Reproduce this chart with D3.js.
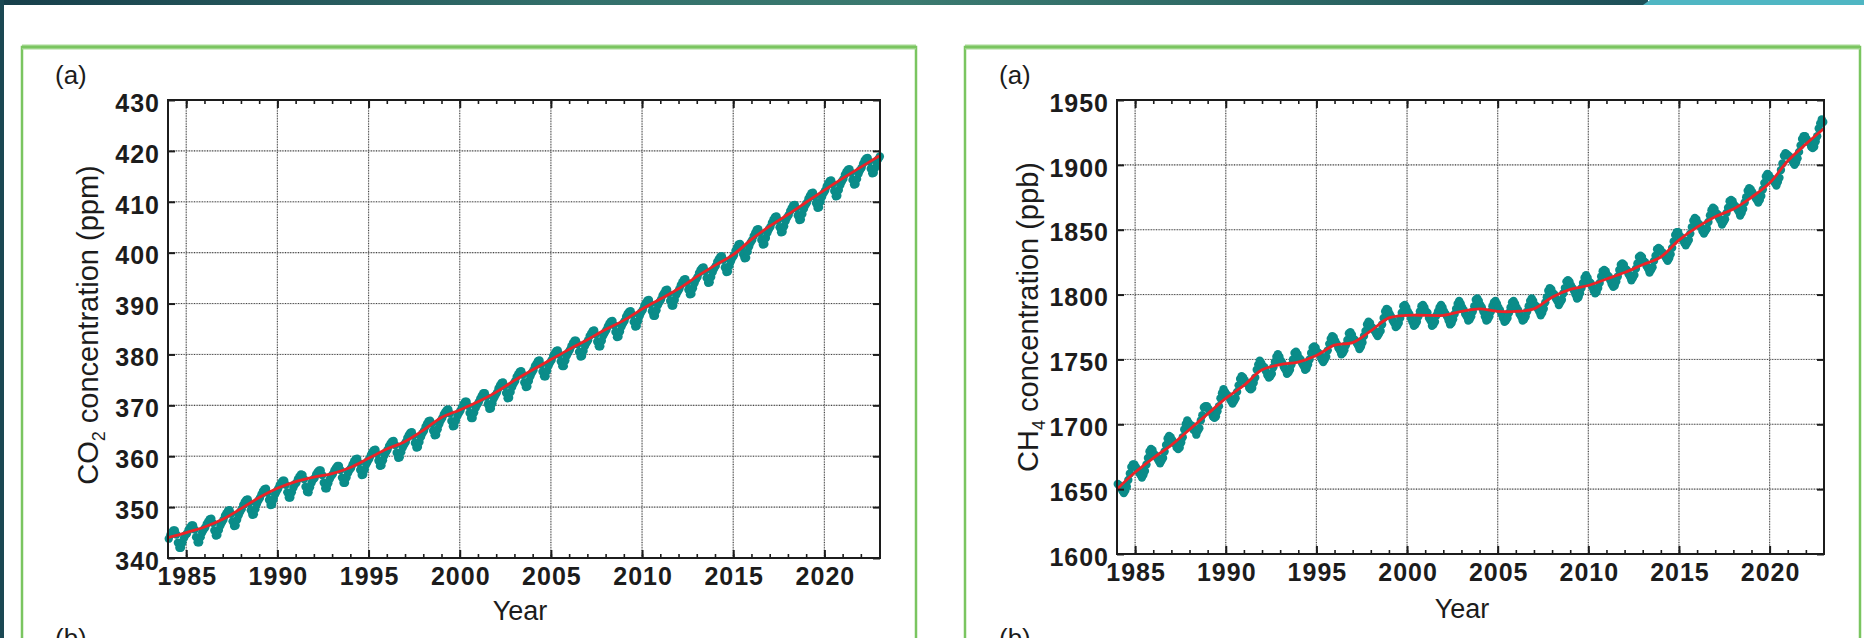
<!DOCTYPE html>
<html>
<head>
<meta charset="utf-8">
<script src="https://cdn.jsdelivr.net/npm/d3@7"></script>
<style>
  html, body { margin: 0; padding: 0; background: #ffffff; }
  svg { display: block; }
</style>
</head>
<body>
<svg id="chart" width="1864" height="638"></svg>
<script>
// ---- data ---------------------------------------------------------------
const startYear = 1984;

// x-axis labelled years, y-axis ticks
const yearTicks = [1985, 1990, 1995, 2000, 2005, 2010, 2015, 2020];
const minorYears = [1985,1986,1987,1988,1989,1990,1991,1992,1993,1994,1995,1996,1997,1998,1999,
  2000,2001,2002,2003,2004,2005,2006,2007,2008,2009,2010,2011,2012,2013,2014,2015,2016,2017,
  2018,2019,2020,2021,2022];
const co2Ticks = [340, 350, 360, 370, 380, 390, 400, 410, 420, 430];
const ch4Ticks = [1600, 1650, 1700, 1750, 1800, 1850, 1900, 1950];

// CO2 (ppm): deseasonalised trend at the start of each year, 1984-2023
const co2Trend = [344.0, 345.0, 346.1, 347.6, 349.7, 351.9, 353.7, 355.0, 355.9, 356.6,
  357.8, 359.6, 361.4, 362.9, 365.1, 367.6, 369.1, 370.7, 372.6, 374.9,
  377.0, 379.0, 381.0, 382.9, 384.9, 386.7, 388.9, 390.9, 392.9, 395.3,
  397.5, 399.6, 402.6, 405.2, 407.5, 409.9, 412.3, 414.6, 416.8, 419.0];

// CO2 (ppm): monthly means, one row per year from 1984
const co2Monthly = [
  [343.8, 344.5, 345.0, 345.4, 345.4, 344.6, 343.0, 342.0, 342.0, 343.0, 343.9, 344.5],
  [344.8, 345.5, 346.0, 346.4, 346.4, 345.6, 344.1, 343.1, 343.1, 344.1, 345.0, 345.6],
  [346.0, 346.7, 347.2, 347.6, 347.7, 346.9, 345.4, 344.4, 344.5, 345.5, 346.4, 347.0],
  [347.5, 348.3, 348.8, 349.3, 349.4, 348.7, 347.2, 346.3, 346.4, 347.5, 348.4, 349.1],
  [349.6, 350.4, 351.0, 351.4, 351.5, 350.8, 349.4, 348.5, 348.6, 349.6, 350.6, 351.3],
  [351.8, 352.5, 353.1, 353.5, 353.6, 352.8, 351.4, 350.4, 350.5, 351.5, 352.5, 353.1],
  [353.6, 354.3, 354.8, 355.2, 355.2, 354.4, 352.9, 351.9, 351.9, 352.9, 353.8, 354.5],
  [354.8, 355.5, 356.0, 356.4, 356.3, 355.5, 354.0, 353.0, 352.9, 353.9, 354.8, 355.4],
  [355.7, 356.4, 356.9, 357.2, 357.2, 356.3, 354.8, 353.7, 353.7, 354.7, 355.5, 356.1],
  [356.5, 357.2, 357.7, 358.1, 358.1, 357.3, 355.8, 354.8, 354.8, 355.8, 356.7, 357.3],
  [357.7, 358.4, 359.0, 359.4, 359.5, 358.7, 357.3, 356.3, 356.4, 357.4, 358.4, 359.0],
  [359.5, 360.2, 360.8, 361.2, 361.3, 360.5, 359.1, 358.1, 358.2, 359.2, 360.2, 360.8],
  [361.3, 362.0, 362.5, 362.9, 363.0, 362.2, 360.7, 359.7, 359.8, 360.8, 361.7, 362.3],
  [362.8, 363.6, 364.2, 364.6, 364.7, 364.0, 362.6, 361.7, 361.8, 362.8, 363.8, 364.5],
  [365.0, 365.8, 366.4, 366.9, 367.0, 366.4, 365.0, 364.1, 364.2, 365.3, 366.3, 367.0],
  [367.5, 368.2, 368.7, 369.1, 369.2, 368.4, 366.9, 365.9, 366.0, 367.0, 367.9, 368.5],
  [369.0, 369.7, 370.2, 370.7, 370.7, 369.9, 368.5, 367.5, 367.5, 368.6, 369.5, 370.1],
  [370.6, 371.3, 371.9, 372.4, 372.4, 371.7, 370.2, 369.3, 369.4, 370.4, 371.4, 372.0],
  [372.5, 373.3, 373.9, 374.4, 374.5, 373.8, 372.4, 371.4, 371.5, 372.6, 373.6, 374.3],
  [374.8, 375.6, 376.1, 376.6, 376.7, 376.0, 374.5, 373.6, 373.7, 374.8, 375.7, 376.4],
  [376.9, 377.7, 378.2, 378.7, 378.8, 378.0, 376.6, 375.7, 375.7, 376.8, 377.8, 378.4],
  [378.9, 379.7, 380.2, 380.7, 380.8, 380.0, 378.6, 377.7, 377.7, 378.8, 379.8, 380.4],
  [380.9, 381.6, 382.2, 382.7, 382.7, 382.0, 380.5, 379.6, 379.7, 380.7, 381.7, 382.3],
  [382.8, 383.6, 384.1, 384.6, 384.7, 383.9, 382.5, 381.6, 381.6, 382.7, 383.7, 384.3],
  [384.8, 385.5, 386.1, 386.5, 386.6, 385.8, 384.4, 383.4, 383.5, 384.5, 385.5, 386.1],
  [386.6, 387.4, 388.0, 388.4, 388.5, 387.8, 386.4, 385.5, 385.6, 386.6, 387.6, 388.3],
  [388.8, 389.6, 390.1, 390.6, 390.7, 389.9, 388.5, 387.6, 387.6, 388.7, 389.7, 390.3],
  [390.8, 391.6, 392.1, 392.6, 392.7, 391.9, 390.5, 389.6, 389.6, 390.7, 391.7, 392.3],
  [392.8, 393.6, 394.2, 394.7, 394.8, 394.1, 392.7, 391.8, 391.9, 393.0, 394.0, 394.7],
  [395.2, 396.0, 396.6, 397.0, 397.1, 396.4, 395.0, 394.1, 394.2, 395.2, 396.2, 396.9],
  [397.4, 398.2, 398.7, 399.2, 399.3, 398.6, 397.1, 396.2, 396.3, 397.4, 398.3, 399.0],
  [399.5, 400.4, 401.0, 401.6, 401.7, 401.1, 399.7, 398.9, 399.0, 400.2, 401.2, 402.0],
  [402.5, 403.3, 403.9, 404.5, 404.6, 403.9, 402.5, 401.6, 401.7, 402.9, 403.9, 404.6],
  [405.1, 405.9, 406.5, 407.0, 407.1, 406.4, 405.0, 404.0, 404.1, 405.2, 406.2, 406.9],
  [407.4, 408.2, 408.8, 409.3, 409.4, 408.7, 407.3, 406.4, 406.5, 407.6, 408.6, 409.3],
  [409.8, 410.6, 411.2, 411.7, 411.8, 411.1, 409.7, 408.8, 408.9, 410.0, 411.0, 411.7],
  [412.2, 413.0, 413.6, 414.1, 414.2, 413.5, 412.1, 411.1, 411.2, 412.3, 413.3, 414.0],
  [414.5, 415.3, 415.9, 416.3, 416.4, 415.7, 414.3, 413.4, 413.5, 414.5, 415.5, 416.2],
  [416.7, 417.5, 418.1, 418.5, 418.6, 417.9, 416.5, 415.6, 415.7, 416.7, 417.7, 418.4],
  [418.9]
];

// CH4 (ppb): deseasonalised trend at the start of each year, 1984-2023
const ch4Trend = [1650, 1663, 1674, 1684, 1696, 1708, 1720, 1730, 1742, 1746,
  1748, 1753, 1761, 1763, 1772, 1782, 1784, 1784, 1784, 1787,
  1789, 1787, 1787, 1789, 1798, 1804, 1807, 1812, 1817, 1823,
  1829, 1842, 1852, 1860, 1866, 1875, 1886, 1903, 1916, 1928];

// CH4 (ppb): monthly means, one row per year from 1984
const ch4Monthly = [
  [1654, 1653, 1651, 1649, 1647, 1649, 1652, 1657, 1662, 1667, 1669, 1669],
  [1667, 1665, 1663, 1661, 1659, 1661, 1664, 1669, 1674, 1679, 1681, 1680],
  [1677, 1676, 1674, 1672, 1670, 1672, 1674, 1679, 1684, 1689, 1691, 1690],
  [1688, 1686, 1685, 1682, 1681, 1682, 1686, 1690, 1696, 1700, 1703, 1701],
  [1699, 1699, 1696, 1695, 1692, 1695, 1697, 1703, 1707, 1713, 1714, 1714],
  [1712, 1710, 1709, 1706, 1705, 1706, 1710, 1714, 1720, 1724, 1727, 1725],
  [1723, 1722, 1720, 1718, 1716, 1718, 1720, 1725, 1730, 1735, 1737, 1736],
  [1734, 1732, 1731, 1728, 1727, 1728, 1732, 1736, 1742, 1746, 1749, 1747],
  [1745, 1744, 1741, 1738, 1736, 1737, 1739, 1744, 1748, 1752, 1754, 1752],
  [1749, 1747, 1744, 1742, 1739, 1740, 1742, 1746, 1750, 1755, 1756, 1754],
  [1751, 1750, 1747, 1745, 1742, 1743, 1746, 1750, 1755, 1759, 1760, 1759],
  [1756, 1755, 1753, 1750, 1748, 1750, 1752, 1757, 1762, 1766, 1768, 1767],
  [1764, 1762, 1759, 1757, 1754, 1755, 1757, 1761, 1765, 1770, 1771, 1769],
  [1766, 1765, 1763, 1761, 1758, 1760, 1763, 1768, 1772, 1777, 1779, 1778],
  [1775, 1774, 1772, 1770, 1768, 1770, 1772, 1777, 1782, 1787, 1789, 1788],
  [1785, 1783, 1780, 1778, 1775, 1776, 1778, 1782, 1786, 1791, 1792, 1790],
  [1787, 1785, 1782, 1779, 1776, 1777, 1779, 1783, 1787, 1791, 1792, 1790],
  [1787, 1786, 1782, 1780, 1776, 1777, 1779, 1784, 1787, 1790, 1792, 1790],
  [1787, 1785, 1783, 1780, 1777, 1778, 1781, 1785, 1789, 1793, 1795, 1793],
  [1790, 1788, 1785, 1783, 1780, 1781, 1783, 1787, 1791, 1796, 1797, 1795],
  [1792, 1790, 1787, 1783, 1780, 1781, 1783, 1787, 1791, 1794, 1795, 1793],
  [1790, 1788, 1785, 1782, 1779, 1780, 1782, 1786, 1790, 1794, 1795, 1793],
  [1790, 1788, 1785, 1783, 1780, 1781, 1783, 1787, 1791, 1795, 1797, 1795],
  [1792, 1791, 1789, 1787, 1784, 1786, 1789, 1794, 1798, 1803, 1805, 1804],
  [1801, 1800, 1797, 1795, 1792, 1794, 1796, 1801, 1805, 1810, 1811, 1810],
  [1807, 1805, 1803, 1800, 1797, 1798, 1801, 1805, 1809, 1813, 1815, 1813],
  [1810, 1809, 1806, 1803, 1801, 1802, 1805, 1809, 1814, 1818, 1819, 1818],
  [1815, 1814, 1811, 1808, 1806, 1807, 1810, 1814, 1819, 1823, 1824, 1823],
  [1820, 1819, 1816, 1814, 1811, 1813, 1815, 1820, 1824, 1829, 1830, 1829],
  [1826, 1825, 1822, 1820, 1817, 1819, 1821, 1826, 1830, 1835, 1836, 1835],
  [1833, 1832, 1830, 1828, 1826, 1828, 1831, 1836, 1841, 1846, 1848, 1848],
  [1845, 1844, 1842, 1840, 1838, 1840, 1842, 1847, 1852, 1857, 1859, 1858],
  [1855, 1854, 1852, 1849, 1847, 1849, 1851, 1856, 1861, 1865, 1867, 1866],
  [1863, 1862, 1859, 1857, 1854, 1856, 1858, 1863, 1867, 1872, 1873, 1872],
  [1869, 1868, 1866, 1864, 1861, 1863, 1866, 1871, 1875, 1880, 1882, 1881],
  [1879, 1877, 1875, 1873, 1871, 1873, 1876, 1881, 1886, 1891, 1893, 1892],
  [1890, 1889, 1888, 1886, 1884, 1887, 1890, 1896, 1901, 1907, 1909, 1908],
  [1907, 1906, 1904, 1902, 1900, 1902, 1905, 1910, 1915, 1920, 1922, 1922],
  [1920, 1918, 1917, 1914, 1913, 1914, 1918, 1922, 1928, 1932, 1935, 1933]
];

// ---- layout ---------------------------------------------------------------
const panels = [
  {
    monthly: co2Monthly, trend: co2Trend, yTicks: co2Ticks,
    xDomain: [1984, 2023.05], yDomain: [340, 430],
    box: { l: 22, r: 916, t: 47 },
    plot: { l: 168, r: 880, t: 100, b: 558 },
    yLabel: { x: 98, y: 325, main: "CO", sub: "2", rest: " concentration (ppm)" },
    xLabel: { x: 520, y: 620 },
    tagX: 55
  },
  {
    monthly: ch4Monthly, trend: ch4Trend, yTicks: ch4Ticks,
    xDomain: [1984, 2023], yDomain: [1600, 1950],
    box: { l: 965, r: 1860, t: 47 },
    plot: { l: 1117, r: 1824, t: 100, b: 554 },
    yLabel: { x: 1038, y: 317, main: "CH", sub: "4", rest: " concentration (ppb)" },
    xLabel: { x: 1462, y: 618 },
    tagX: 999
  }
];

const TEAL = "#0a8c89";
const RED = "#ec2327";
const INK = "#1c1c1c";
const GREEN = "#7ac560";
const tickFont = "'Liberation Sans Narrow', 'Arial Narrow', 'Liberation Sans', sans-serif";
const textFont = "'Liberation Sans', Arial, Helvetica, sans-serif";

const svg = d3.select("#chart");

// ---- page frame ---------------------------------------------------------------
const defs = svg.append("defs");
const band = defs.append("linearGradient").attr("id", "topBand")
  .attr("x1", "0%").attr("x2", "100%").attr("y1", "0%").attr("y2", "0%");
[["0%", "#173f4b"], ["35%", "#33706b"], ["55%", "#3b7a70"], ["80%", "#2b6563"], ["100%", "#1d4f58"]]
  .forEach(([o, c]) => band.append("stop").attr("offset", o).attr("stop-color", c));

svg.append("rect").attr("x", 0).attr("y", 0).attr("width", 1864).attr("height", 638).attr("fill", "#ffffff");
svg.append("rect").attr("x", 0).attr("y", 0).attr("width", 1648).attr("height", 5).attr("fill", "url(#topBand)");
svg.append("polygon").attr("points", "1650,0 1864,0 1864,5 1643,5").attr("fill", "#4fb6c3");
svg.append("rect").attr("x", 0).attr("y", 0).attr("width", 4).attr("height", 638).attr("fill", "#1b4853");

// ---- panels -------------------------------------------------------------------
panels.forEach(p => {
  const g = svg.append("g");
  const { l, r, t, b } = p.plot;

  // green panel border (open at the bottom of the page)
  g.append("path")
    .attr("d", `M${p.box.l},660 V${p.box.t} H${p.box.r} V660`)
    .attr("fill", "none").attr("stroke", GREEN).attr("stroke-width", 2.5);
  g.append("line")
    .attr("x1", p.box.l).attr("x2", p.box.r).attr("y1", p.box.t).attr("y2", p.box.t)
    .attr("stroke", "#a8d996").attr("stroke-width", 5);
  g.append("line")
    .attr("x1", p.box.l).attr("x2", p.box.r).attr("y1", p.box.t).attr("y2", p.box.t)
    .attr("stroke", GREEN).attr("stroke-width", 2.5);

  // panel tags ("(b)" belongs to the next panel, only its top shows)
  g.append("text").attr("x", p.tagX).attr("y", 84).text("(a)")
    .attr("font-family", textFont).attr("font-size", 26).attr("fill", INK);
  g.append("text").attr("x", p.tagX).attr("y", 647).text("(b)")
    .attr("font-family", textFont).attr("font-size", 26).attr("fill", INK);

  const x = d3.scaleLinear().domain(p.xDomain).range([l, r]);
  const y = d3.scaleLinear().domain(p.yDomain).range([b, t]);

  // dotted grid
  const grid = g.append("g");
  const hLines = p.yTicks.slice(1, -1);
  [["#d0d0d0", null, 1.2], ["#444444", "1,1.6", 1.1]].forEach(([col, dash, w]) => {
    grid.selectAll(null).data(hLines).enter().append("line")
      .attr("x1", l).attr("x2", r)
      .attr("y1", d => y(d)).attr("y2", d => y(d))
      .attr("stroke", col).attr("stroke-width", w).attr("stroke-dasharray", dash);
    grid.selectAll(null).data(yearTicks).enter().append("line")
      .attr("y1", t).attr("y2", b)
      .attr("x1", d => x(d)).attr("x2", d => x(d))
      .attr("stroke", col).attr("stroke-width", w).attr("stroke-dasharray", dash);
  });

  // monthly points
  const pts = [];
  p.monthly.forEach((row, i) => row.forEach((v, m) => {
    pts.push({ t: startYear + i + (m + 0.5) / 12, v });
  }));
  g.append("g").selectAll("circle").data(pts).enter().append("circle")
    .attr("cx", d => x(d.t)).attr("cy", d => y(d.v)).attr("r", 4.2)
    .attr("fill", TEAL);

  // trend line
  const trendPts = p.trend.map((v, i) => ({ t: startYear + i, v }));
  g.append("path").datum(trendPts)
    .attr("d", d3.line().x(d => x(d.t)).y(d => y(d.v)).curve(d3.curveCatmullRom.alpha(0.5)))
    .attr("fill", "none").attr("stroke", RED).attr("stroke-width", 2.8)
    .attr("stroke-linejoin", "round");

  // axes: major & minor ticks pointing inward on all four sides
  const styleAxis = sel => {
    sel.select(".domain").remove();
    sel.selectAll(".tick line").attr("stroke", INK).attr("stroke-width", 2);
    sel.selectAll(".tick text")
      .attr("font-family", tickFont).attr("font-weight", "bold")
      .attr("font-size", 25).attr("letter-spacing", "1px").attr("fill", INK);
  };
  const minorStyle = sel => {
    sel.select(".domain").remove();
    sel.selectAll(".tick line").attr("stroke", INK).attr("stroke-width", 1.6);
  };

  g.append("g").attr("transform", `translate(0,${b})`)
    .call(d3.axisBottom(x).tickValues(minorYears).tickSizeInner(-4).tickSizeOuter(0).tickFormat(""))
    .call(minorStyle);
  g.append("g").attr("transform", `translate(0,${t})`)
    .call(d3.axisTop(x).tickValues(minorYears).tickSizeInner(-4).tickSizeOuter(0).tickFormat(""))
    .call(minorStyle);

  g.append("g").attr("transform", `translate(0,${b})`)
    .call(d3.axisBottom(x).tickValues(yearTicks).tickSizeInner(-8).tickSizeOuter(0)
      .tickPadding(9).tickFormat(d3.format("d")))
    .call(styleAxis)
    .call(s => s.selectAll(".tick text").attr("dx", "0.5px"));
  g.append("g").attr("transform", `translate(0,${t})`)
    .call(d3.axisTop(x).tickValues(yearTicks).tickSizeInner(-8).tickSizeOuter(0).tickFormat(""))
    .call(styleAxis);

  g.append("g").attr("transform", `translate(${l},0)`)
    .call(d3.axisLeft(y).tickValues(p.yTicks).tickSizeInner(-7).tickSizeOuter(0)
      .tickPadding(8).tickFormat(d3.format("d")))
    .call(styleAxis)
    .call(s => s.selectAll(".tick text").attr("dy", "0.45em"));
  g.append("g").attr("transform", `translate(${r},0)`)
    .call(d3.axisRight(y).tickValues(p.yTicks).tickSizeInner(-7).tickSizeOuter(0).tickFormat(""))
    .call(styleAxis);

  // plot frame
  g.append("rect").attr("x", l).attr("y", t).attr("width", r - l).attr("height", b - t)
    .attr("fill", "none").attr("stroke", INK).attr("stroke-width", 2);

  // axis titles
  g.append("text").attr("x", p.xLabel.x).attr("y", p.xLabel.y)
    .attr("text-anchor", "middle").attr("font-family", textFont)
    .attr("font-size", 27).attr("fill", INK).text("Year");

  const yl = g.append("text")
    .attr("transform", `translate(${p.yLabel.x},${p.yLabel.y}) rotate(-90)`)
    .attr("text-anchor", "middle").attr("font-family", textFont)
    .attr("font-size", 29).attr("fill", INK);
  yl.append("tspan").text(p.yLabel.main);
  yl.append("tspan").attr("font-size", 18).attr("dy", 7).text(p.yLabel.sub);
  yl.append("tspan").attr("dy", -7).text(p.yLabel.rest);
});
</script>
</body>
</html>
